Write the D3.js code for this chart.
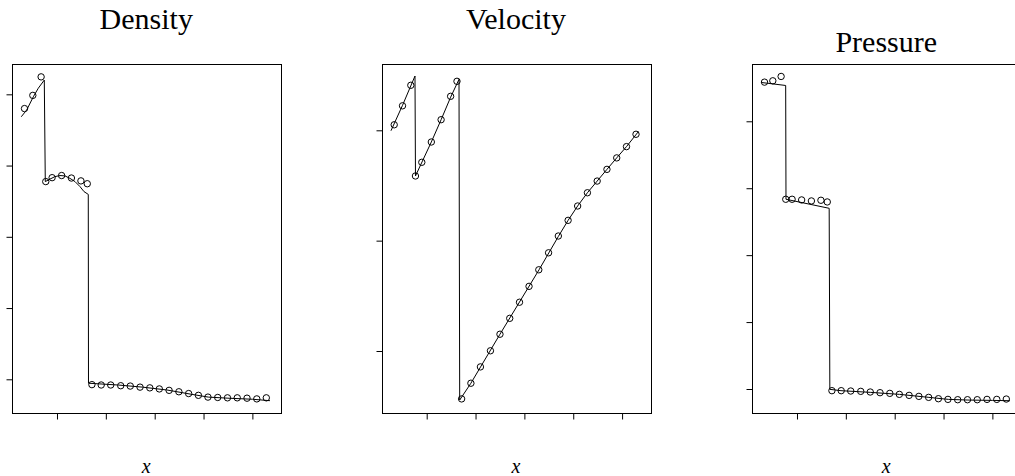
<!DOCTYPE html>
<html>
<head>
<meta charset="utf-8">
<script src="https://cdn.jsdelivr.net/npm/d3@7"></script>
<style>
  html, body { margin: 0; padding: 0; background: #fff; }
  svg { display: block; }
  .serif { font-family: "Liberation Serif", "Tinos", "Times New Roman", Times, serif; }
</style>
</head>
<body>
<svg id="chart" width="1015" height="476"></svg>
<script>
// Shock tube: numerical particles (circles) against the exact solution (line)

const panelTitles = ["Density", "Velocity", "Pressure"];
const xTicks = [0.2, 0.4, 0.6, 0.8, 1.0];
const xDomain = [0.0158, 1.1151];

// particle positions shared by all three quantities
const particleX = [0.067, 0.101, 0.135, 0.154, 0.180, 0.219, 0.259, 0.298, 0.324,
  0.343, 0.381, 0.420, 0.461, 0.500, 0.540, 0.580, 0.619, 0.659, 0.699, 0.739,
  0.779, 0.818, 0.858, 0.898, 0.938, 0.978, 1.018, 1.057];

const densityValues = [0.960, 0.997, 1.049, 0.755, 0.766, 0.772, 0.765, 0.757, 0.749,
  0.185, 0.184, 0.184, 0.182, 0.181, 0.178, 0.176, 0.173, 0.169, 0.165, 0.160,
  0.155, 0.150, 0.149, 0.148, 0.148, 0.147, 0.145, 0.148];

const velocityValues = [1.025, 1.111, 1.204, 0.793, 0.855, 0.947, 1.048, 1.154, 1.222,
  -0.217, -0.146, -0.072, 0.001, 0.076, 0.148, 0.221, 0.293, 0.368, 0.445, 0.521,
  0.592, 0.657, 0.717, 0.770, 0.823, 0.875, 0.926, 0.982];

const pressureValues = [1.117, 1.121, 1.134, 0.767, 0.767, 0.765, 0.762, 0.764, 0.759,
  0.195, 0.195, 0.194, 0.193, 0.191, 0.189, 0.187, 0.184, 0.181, 0.178, 0.175,
  0.171, 0.169, 0.168, 0.168, 0.168, 0.169, 0.169, 0.170];

// exact solution curves
const densityExactX = [0.0538, 0.0759, 0.1030, 0.1234, 0.1480, 0.1521, 0.1713, 0.1918,
  0.2123, 0.2328, 0.2532, 0.2737, 0.2942, 0.3105, 0.3281, 0.3290, 0.45, 0.55, 0.65,
  0.75, 0.82, 0.90, 1.00, 1.072];
const densityExactY = [0.937, 0.956, 0.993, 1.017, 1.040, 0.755, 0.762, 0.769,
  0.772, 0.771, 0.764, 0.755, 0.741, 0.727, 0.719, 0.189, 0.184, 0.178, 0.170,
  0.158, 0.150, 0.147, 0.144, 0.140];

const velocityExactX = [0.0538, 0.101, 0.1521, 0.1541, 0.219, 0.259, 0.298, 0.3323,
  0.3351, 0.381, 0.50, 0.66, 0.739, 0.779, 0.818, 0.858, 0.898, 0.938, 0.978,
  1.018, 1.0667];
const velocityExactY = [0.998, 1.113, 1.246, 0.793, 0.947, 1.048, 1.150, 1.231,
  -0.222, -0.146, 0.076, 0.368, 0.519, 0.592, 0.657, 0.717, 0.770, 0.823, 0.875,
  0.926, 0.994];

const pressureExactX = [0.0538, 0.1537, 0.1550, 0.3318, 0.3345, 0.38, 0.50, 0.62,
  0.74, 0.82, 0.90, 1.00, 1.072];
const pressureExactY = [1.116, 1.107, 0.767, 0.740, 0.199, 0.195, 0.190, 0.184,
  0.175, 0.169, 0.167, 0.166, 0.165];

const densityTicks = [0.2, 0.4, 0.6, 0.8, 1.0];
const velocityTicks = [0.0, 0.5, 1.0];
const pressureTicks = [0.2, 0.4, 0.6, 0.8, 1.0];

const densityDomain = [0.1054, 1.0851];
const velocityDomain = [-0.2809, 1.3004];
const pressureDomain = [0.1283, 1.1712];

const panels = [
  { title: panelTitles[0], px: particleX, py: densityValues, lx: densityExactX, ly: densityExactY,
    yTicks: densityTicks, yDomain: densityDomain, left: 12, titleY: 29 },
  { title: panelTitles[1], px: particleX, py: velocityValues, lx: velocityExactX, ly: velocityExactY,
    yTicks: velocityTicks, yDomain: velocityDomain, left: 381.7, titleY: 29 },
  { title: panelTitles[2], px: particleX, py: pressureValues, lx: pressureExactX, ly: pressureExactY,
    yTicks: pressureTicks, yDomain: pressureDomain, left: 752, titleY: 52 }
];

const svg = d3.select("#chart");
const plotW = 268.5, plotTop = 64, plotBottom = 413;

panels.forEach(p => {
  const g = svg.append("g");
  const x = d3.scaleLinear().domain(xDomain).range([p.left, p.left + plotW]);
  const y = d3.scaleLinear().domain(p.yDomain).range([plotBottom, plotTop]);

  // plot frame
  g.append("rect")
    .attr("x", Math.round(p.left) + 0.5).attr("y", plotTop + 0.5)
    .attr("width", Math.round(plotW)).attr("height", plotBottom - plotTop)
    .attr("fill", "none").attr("stroke", "#000").attr("stroke-width", 1);

  // axes: tick marks only, no labels
  const xAxis = d3.axisBottom(x).tickValues(xTicks).tickSize(6).tickFormat("");
  const gx = g.append("g").attr("transform", `translate(0,${plotBottom + 0.5})`).call(xAxis);
  gx.select(".domain").remove();
  gx.selectAll(".tick line").attr("stroke", "#000");

  const yAxis = d3.axisLeft(y).tickValues(p.yTicks).tickSize(6).tickFormat("");
  const gy = g.append("g").attr("transform", `translate(${Math.round(p.left) + 0.5},0)`).call(yAxis);
  gy.select(".domain").remove();
  gy.selectAll(".tick line").attr("stroke", "#000");

  // exact solution
  const exact = p.lx.map((v, i) => [v, p.ly[i]]);
  g.append("path")
    .datum(exact)
    .attr("fill", "none").attr("stroke", "#000").attr("stroke-width", 1)
    .attr("d", d3.line().x(d => x(d[0])).y(d => y(d[1])));

  // particles
  const pts = p.px.map((v, i) => [v, p.py[i]]);
  g.selectAll("circle.pt").data(pts).enter().append("circle")
    .attr("class", "pt")
    .attr("cx", d => x(d[0])).attr("cy", d => y(d[1]))
    .attr("r", 3.2)
    .attr("fill", "none").attr("stroke", "#000").attr("stroke-width", 1);

  // title and axis label
  g.append("text")
    .attr("class", "serif")
    .attr("x", p.left + plotW / 2).attr("y", p.titleY)
    .attr("text-anchor", "middle")
    .attr("font-size", 30)
    .text(p.title);

  g.append("text")
    .attr("class", "serif")
    .attr("x", p.left + plotW / 2).attr("y", 473)
    .attr("text-anchor", "middle")
    .attr("font-style", "italic").attr("font-size", 20)
    .text("x");
});
</script>
</body>
</html>
